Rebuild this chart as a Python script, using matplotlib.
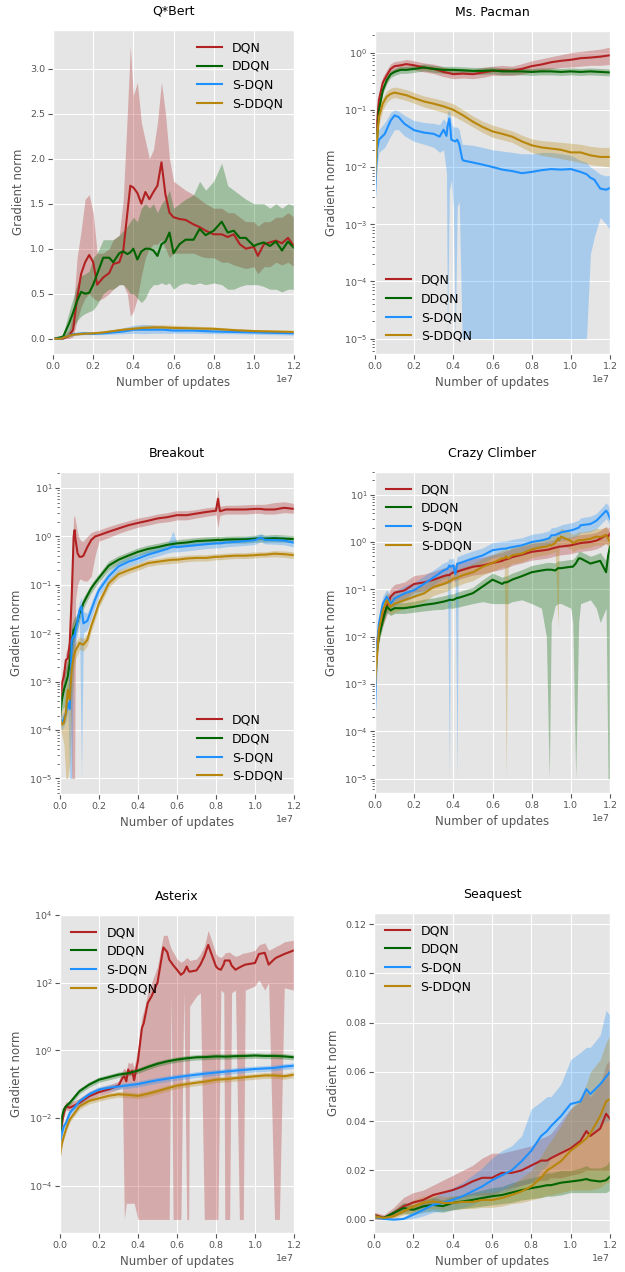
"""
Gradient norm during training for DQN variants on six Atari games
"""

import numpy as np
import matplotlib
matplotlib.use('Agg')
import matplotlib.pyplot as plt
from matplotlib.ticker import NullLocator

UPDATES = 1e7  # x values below are in units of 1e7 updates

# ---------------- Q*Bert (linear) ----------------
qbert_x = [0, .05, .08, .1, .12, .14, .16, .18, .2, .22, .25, .28, .3, .33, .35, .37, .385, .4, .42, .44,
           .46, .48, .5, .52, .54, .56, .58, .6, .63, .66, .7, .73, .76, .8, .84, .87, .9, .93, .96, 1.0,
           1.02, 1.05, 1.08, 1.11, 1.14, 1.17, 1.2]
qbert_dqn = [0, 0, 0.03, 0.1, 0.45, 0.72, 0.85, 0.93, 0.85, 0.6, 0.68, 0.73, 0.83, 0.85, 0.98, 1.39, 1.7, 1.68, 1.62, 1.5,
             1.63, 1.55, 1.63, 1.7, 1.96, 1.6, 1.4, 1.35, 1.33, 1.32, 1.27, 1.24, 1.2, 1.16, 1.16, 1.13, 1.16, 1.05, 1.0, 1.02,
             0.92, 1.05, 1.07, 1.09, 1.06, 1.12, 1.03]
qbert_dqn_lo = [0, 0, 0, 0.02, 0.2, 0.35, 0.45, 0.5, 0.45, 0.42, 0.45, 0.5, 0.55, 0.6, 0.6, 0.5, 0.25, 0.3, 0.45, 0.7,
                0.9, 1.0, 1.05, 1.05, 1.1, 1.0, 0.9, 0.95, 0.95, 0.95, 0.95, 0.92, 0.9, 0.9, 0.85, 0.85, 0.82, 0.8, 0.78, 0.8,
                0.72, 0.8, 0.8, 0.85, 0.82, 0.85, 0.8]
qbert_dqn_hi = [0, 0.02, 0.1, 0.3, 0.9, 1.2, 1.55, 1.6, 1.4, 0.95, 0.95, 1.0, 1.1, 1.15, 1.55, 2.5, 3.25, 2.7, 2.85, 2.4,
                2.2, 2.0, 2.1, 2.4, 2.85, 2.5, 2.0, 1.75, 1.7, 1.65, 1.6, 1.55, 1.5, 1.45, 1.45, 1.4, 1.4, 1.35, 1.3, 1.3,
                1.25, 1.3, 1.3, 1.35, 1.35, 1.4, 1.35]
qbert_ddqn = [0, 0.02, 0.17, 0.29, 0.42, 0.52, 0.5, 0.51, 0.6, 0.72, 0.9, 0.9, 0.85, 0.95, 0.97, 0.94, 0.96, 1.0, 0.88, 0.97,
              1.0, 1.0, 0.98, 0.92, 1.05, 1.08, 1.18, 0.95, 1.05, 1.1, 1.1, 1.22, 1.15, 1.2, 1.3, 1.18, 1.2, 1.12, 1.12, 1.03,
              1.05, 1.07, 1.03, 1.08, 0.98, 1.08, 1.01]
qbert_ddqn_lo = [0, 0, 0.05, 0.12, 0.2, 0.25, 0.28, 0.3, 0.32, 0.38, 0.5, 0.55, 0.55, 0.6, 0.6, 0.55, 0.5, 0.5, 0.45, 0.4,
                 0.45, 0.55, 0.6, 0.6, 0.62, 0.6, 0.62, 0.55, 0.6, 0.62, 0.6, 0.62, 0.6, 0.62, 0.6, 0.55, 0.55, 0.58, 0.6, 0.6,
                 0.6, 0.58, 0.55, 0.55, 0.52, 0.55, 0.55]
qbert_ddqn_hi = [0, 0.05, 0.3, 0.45, 0.6, 0.7, 0.72, 0.75, 0.9, 0.95, 1.1, 1.1, 1.1, 1.15, 1.2, 1.25, 1.3, 1.35, 1.3, 1.45,
                 1.5, 1.45, 1.5, 1.4, 1.5, 1.55, 1.65, 1.45, 1.5, 1.55, 1.6, 1.75, 1.65, 1.75, 1.95, 1.7, 1.65, 1.6, 1.55, 1.5,
                 1.5, 1.5, 1.45, 1.5, 1.45, 1.5, 1.48]
qbert_xs = [0, .04, .06, .1, .15, .2, .25, .3, .35, .4, .45, .5, .55, .6, .7, .8, .9, 1.0, 1.1, 1.2]
qbert_sdqn = [0, 0, 0.02, 0.05, 0.06, 0.055, 0.06, 0.07, 0.08, 0.1, 0.1, 0.1, 0.1, 0.09, 0.09, 0.08, 0.075, 0.07, 0.065, 0.06]
qbert_sdqn_lo = [0, 0, 0.01, 0.035, 0.045, 0.045, 0.045, 0.05, 0.055, 0.06, 0.055, 0.06, 0.06, 0.06, 0.06, 0.055, 0.055, 0.05, 0.045, 0.04]
qbert_sdqn_hi = [0, 0, 0.03, 0.065, 0.075, 0.07, 0.08, 0.1, 0.12, 0.15, 0.16, 0.15, 0.14, 0.13, 0.12, 0.11, 0.1, 0.09, 0.09, 0.085]
qbert_sddqn = [0, 0, 0.02, 0.045, 0.055, 0.06, 0.07, 0.085, 0.1, 0.11, 0.12, 0.125, 0.125, 0.12, 0.115, 0.11, 0.095, 0.085, 0.08, 0.075]
qbert_sddqn_lo = [0, 0, 0.01, 0.035, 0.045, 0.05, 0.055, 0.07, 0.08, 0.09, 0.095, 0.1, 0.1, 0.1, 0.095, 0.09, 0.08, 0.07, 0.065, 0.06]
qbert_sddqn_hi = [0, 0, 0.03, 0.055, 0.065, 0.075, 0.085, 0.1, 0.12, 0.135, 0.15, 0.155, 0.155, 0.15, 0.14, 0.13, 0.115, 0.1, 0.095, 0.09]

# ---------------- Ms. Pacman (log) ----------------
pac_x = [0, .01, .02, .04, .06, .08, .1, .13, .16, .2, .25, .3, .35, .4, .45, .5, .55, .6, .65, .7,
         .75, .8, .85, .9, .95, 1.0, 1.05, 1.1, 1.15, 1.2]
pac_dqn = [0.008, 0.06, 0.15, 0.3, 0.4, 0.52, 0.58, 0.6, 0.63, 0.6, 0.55, 0.52, 0.46, 0.42, 0.43, 0.42, 0.45, 0.48, 0.49, 0.48,
           0.52, 0.58, 0.62, 0.68, 0.72, 0.75, 0.8, 0.82, 0.85, 0.9]
pac_dqn_lo = [0.005, 0.04, 0.1, 0.22, 0.3, 0.42, 0.47, 0.5, 0.52, 0.5, 0.46, 0.43, 0.38, 0.35, 0.36, 0.35, 0.37, 0.4, 0.4, 0.4,
              0.42, 0.46, 0.48, 0.52, 0.55, 0.56, 0.58, 0.6, 0.6, 0.62]
pac_dqn_hi = [0.015, 0.08, 0.2, 0.38, 0.5, 0.64, 0.7, 0.72, 0.76, 0.72, 0.66, 0.63, 0.56, 0.5, 0.52, 0.5, 0.55, 0.58, 0.6, 0.58,
              0.64, 0.72, 0.78, 0.85, 0.92, 1.0, 1.05, 1.1, 1.15, 1.25]
pac_ddqn = [0.005, 0.03, 0.1, 0.22, 0.33, 0.42, 0.46, 0.5, 0.5, 0.52, 0.55, 0.52, 0.5, 0.5, 0.49, 0.48, 0.48, 0.49, 0.47, 0.47,
            0.47, 0.46, 0.47, 0.47, 0.46, 0.47, 0.46, 0.47, 0.46, 0.45]
pac_ddqn_spread = 1.15
pac_sddqn = [0.006, 0.03, 0.075, 0.13, 0.17, 0.19, 0.2, 0.19, 0.18, 0.16, 0.14, 0.128, 0.115, 0.1, 0.08, 0.062, 0.05, 0.042, 0.038, 0.034,
             0.028, 0.024, 0.022, 0.021, 0.02, 0.018, 0.018, 0.016, 0.015, 0.015]
pac_sddqn_lo = [0.004, 0.02, 0.055, 0.1, 0.135, 0.155, 0.165, 0.155, 0.145, 0.13, 0.112, 0.1, 0.09, 0.078, 0.063, 0.05, 0.04, 0.033, 0.03, 0.027,
                0.022, 0.018, 0.016, 0.015, 0.014, 0.013, 0.012, 0.011, 0.0105, 0.01]
pac_sddqn_hi = [0.008, 0.04, 0.1, 0.165, 0.215, 0.24, 0.25, 0.24, 0.225, 0.2, 0.175, 0.16, 0.145, 0.127, 0.1, 0.078, 0.063, 0.054, 0.048, 0.043,
                0.036, 0.031, 0.029, 0.028, 0.027, 0.026, 0.025, 0.023, 0.022, 0.022]
pac_xs = [0, .01, .02, .05, .08, .1, .12, .15, .2, .25, .3, .33, .35, .365, .37, .38, .39, .4, .41, .42,
          .43, .445, .45, .5, .55, .6, .65, .7, .75, .8, .85, .9, .95, 1.0, 1.05, 1.08, 1.1, 1.12, 1.15, 1.18, 1.2]
pac_sdqn = [0.003, 0.02, 0.03, 0.038, 0.065, 0.08, 0.075, 0.057, 0.044, 0.04, 0.038, 0.034, 0.045, 0.035, 0.05, 0.07, 0.03, 0.029, 0.028, 0.03,
            0.025, 0.014, 0.013, 0.012, 0.011, 0.01, 0.009, 0.0085, 0.0078, 0.0082, 0.0088, 0.0092, 0.009, 0.0092, 0.0082, 0.0075, 0.0065, 0.006, 0.0042, 0.004,
            0.0043]
pac_sdqn_lo = [0.002, 0.01, 0.018, 0.022, 0.035, 0.045, 0.045, 0.035, 0.028, 0.025, 0.022, 0.018, 0.02, 0.008, 1e-5, 0.004, 0.006, 0.002, 1e-5, 0.002,
               0.0025, 1e-5, 1e-5, 1e-5, 1e-5, 1e-5, 1e-5, 1e-5, 1e-5, 1e-5, 1e-5, 1e-5, 1e-5, 1e-5, 1e-5, 1e-5, 3e-4, 6e-4, 1.3e-3, 1e-3,
               8e-4]
pac_sdqn_hi = [0.004, 0.03, 0.045, 0.06, 0.09, 0.1, 0.095, 0.08, 0.065, 0.06, 0.058, 0.055, 0.07, 0.06, 0.09, 0.1, 0.06, 0.05, 0.05, 0.05,
               0.045, 0.025, 0.025, 0.024, 0.022, 0.02, 0.019, 0.018, 0.017, 0.017, 0.018, 0.018, 0.017, 0.016, 0.013, 0.012, 0.01, 0.009, 0.0075, 0.007,
               0.0072]

# ---------------- Breakout (log) ----------------
bo_x = [0, .01, .02, .03, .04, .05, .06, .07, .075, .08, .09, .1, .11, .12, .14, .16, .18, .2, .25, .3,
        .35, .4, .45, .5, .55, .58, .6, .65, .7, .75, .8, .81, .82, .85, .9, .95, 1.0, 1.03, 1.05, 1.1, 1.15, 1.2]
bo_dqn = [1.9e-4, 9.3e-4, 1.3e-3, 2.8e-3, 3e-3, 6.3e-3, 0.056, 1.0, 1.35, 0.85, 0.45, 0.38, 0.38, 0.4, 0.6, 0.84, 1.0, 1.06, 1.25, 1.46,
          1.7, 1.9, 2.1, 2.35, 2.5, 2.65, 2.75, 2.75, 2.97, 3.2, 3.4, 6.0, 3.3, 3.6, 3.6, 3.6, 3.7, 3.7, 3.6, 3.6, 3.9, 3.7]
bo_dqn_lo = [1.2e-4, 5e-4, 8e-4, 1.5e-3, 1.5e-3, 2e-3, 1e-5, 1e-5, 1e-5, 0.05, 0.1, 0.13, 0.13, 0.12, 0.12, 0.15, 0.4, 0.8, 0.95, 1.15,
             1.35, 1.55, 1.7, 1.9, 2.0, 2.1, 2.2, 2.2, 2.4, 2.6, 2.8, 1.5, 2.7, 2.9, 2.9, 2.9, 3.0, 3.0, 2.9, 2.9, 3.1, 3.0]
bo_dqn_hi = [3e-4, 1.5e-3, 2e-3, 4e-3, 5e-3, 0.012, 0.3, 2.5, 2.7, 2.0, 1.2, 0.9, 0.8, 0.8, 1.0, 1.2, 1.3, 1.35, 1.6, 1.85,
             2.1, 2.4, 2.6, 2.9, 3.1, 3.3, 3.4, 3.4, 3.6, 3.9, 4.1, 10.0, 4.2, 4.4, 4.4, 4.5, 4.6, 4.6, 4.6, 5.0, 5.2, 4.8]
bo_ddqn = [1.9e-4, 4.3e-4, 6.8e-4, 9.3e-4, 1.3e-3, 2.4e-3, 6.3e-3, 0.012, 0.012, 0.014, 0.018, 0.026, 0.032, 0.042, 0.06, 0.085, 0.11, 0.14, 0.25, 0.33,
           0.4, 0.48, 0.55, 0.6, 0.67, 0.7, 0.72, 0.75, 0.8, 0.82, 0.84, 0.85, 0.84, 0.86, 0.87, 0.87, 0.9, 0.92, 0.9, 0.92, 0.9, 0.88]
bo_ddqn_lo = [1.2e-4, 2.5e-4, 3e-4, 3e-4, 4e-4, 8e-4, 2.5e-3, 6e-3, 7e-3, 9e-3, 0.012, 0.018, 0.024, 0.032, 0.048, 0.068, 0.09, 0.115, 0.2, 0.27,
              0.33, 0.4, 0.46, 0.5, 0.56, 0.58, 0.6, 0.63, 0.67, 0.69, 0.7, 0.71, 0.7, 0.72, 0.73, 0.73, 0.76, 0.77, 0.76, 0.77, 0.76, 0.74]
bo_ddqn_hi = [3e-4, 7e-4, 1.3e-3, 2e-3, 3e-3, 6e-3, 0.015, 0.02, 0.022, 0.022, 0.026, 0.036, 0.042, 0.055, 0.075, 0.105, 0.135, 0.17, 0.31, 0.4,
              0.48, 0.58, 0.66, 0.72, 0.8, 0.84, 0.86, 0.9, 0.95, 0.98, 1.0, 1.01, 1.0, 1.02, 1.03, 1.03, 1.06, 1.1, 1.06, 1.1, 1.07, 1.04]
bo_sdqn = [1.7e-4, 1.4e-4, 1.7e-4, 2.2e-4, 3.6e-4, 2.7e-4, 7e-3, 9e-3, 8.5e-3, 0.012, 0.018, 0.03, 0.036, 0.016, 0.018, 0.03, 0.05, 0.078, 0.15, 0.24,
           0.3, 0.35, 0.42, 0.48, 0.55, 0.62, 0.6, 0.63, 0.66, 0.69, 0.72, 0.72, 0.72, 0.75, 0.77, 0.8, 0.84, 0.95, 0.85, 0.84, 0.82, 0.74]
bo_sdqn_lo = [1.2e-4, 1e-4, 1.2e-4, 1.5e-4, 2.5e-4, 1e-5, 1e-5, 3e-3, 4e-3, 6e-3, 0.01, 0.018, 1e-5, 0.01, 0.012, 0.02, 0.036, 0.058, 0.12, 0.19,
              0.24, 0.28, 0.34, 0.39, 0.45, 0.48, 0.48, 0.5, 0.53, 0.56, 0.58, 0.58, 0.58, 0.61, 0.63, 0.65, 0.68, 0.78, 0.7, 0.69, 0.67, 0.6]
bo_sdqn_hi = [2.3e-4, 2e-4, 2.3e-4, 3e-4, 5e-4, 4e-4, 0.012, 0.014, 0.013, 0.02, 0.028, 0.045, 0.055, 0.028, 0.026, 0.042, 0.068, 0.1, 0.19, 0.3,
              0.37, 0.43, 0.52, 0.58, 0.68, 1.3, 0.74, 0.78, 0.82, 0.85, 0.88, 0.88, 0.88, 0.92, 0.94, 0.98, 1.02, 1.15, 1.04, 1.03, 1.0, 0.92]
bo_sddqn = [1.7e-4, 1.3e-4, 1.4e-4, 2.2e-4, 6.8e-4, 4.3e-4, 1.8e-3, 3.3e-3, 3.8e-3, 4.5e-3, 5.2e-3, 6.3e-3, 6e-3, 5.8e-3, 7.3e-3, 0.014, 0.024, 0.042, 0.107, 0.166,
            0.2, 0.235, 0.28, 0.3, 0.32, 0.33, 0.33, 0.35, 0.36, 0.36, 0.38, 0.38, 0.38, 0.39, 0.4, 0.4, 0.41, 0.42, 0.42, 0.44, 0.43, 0.41]
bo_sddqn_lo = [1.1e-4, 8e-5, 5e-5, 1e-5, 1e-5, 2e-5, 4e-4, 1.5e-3, 2.2e-3, 3e-3, 3.6e-3, 4.6e-3, 4.5e-3, 4.3e-3, 5.5e-3, 0.011, 0.019, 0.034, 0.088, 0.14,
               0.17, 0.2, 0.24, 0.26, 0.27, 0.28, 0.28, 0.3, 0.31, 0.31, 0.33, 0.33, 0.33, 0.34, 0.35, 0.35, 0.36, 0.37, 0.37, 0.38, 0.37, 0.35]
bo_sddqn_hi = [2.4e-4, 2.2e-4, 3e-4, 6e-4, 1.2e-3, 1.5e-3, 5e-3, 6e-3, 6e-3, 6.5e-3, 7.5e-3, 8.5e-3, 8e-3, 7.8e-3, 9.5e-3, 0.018, 0.03, 0.052, 0.13, 0.2,
               0.24, 0.28, 0.33, 0.35, 0.38, 0.39, 0.39, 0.41, 0.42, 0.42, 0.44, 0.44, 0.44, 0.45, 0.46, 0.46, 0.48, 0.48, 0.48, 0.51, 0.5, 0.48]

# ---------------- Crazy Climber (log) ----------------
cc_x = [0, .01, .02, .04, .06, .08, .1, .15, .2, .25, .3, .35, .37, .38, .385, .4, .41, .42, .425, .45,
        .5, .55, .6, .65, .66, .67, .68, .7, .75, .8, .85, .875, .89, .9, .92, .935, .94, .95, 1.0, 1.01,
        1.025, 1.04, 1.05, 1.1, 1.13, 1.15, 1.18, 1.19, 1.2]
cc_dqn = [0.0028, 0.0072, 0.014, 0.026, 0.043, 0.07, 0.085, 0.095, 0.13, 0.14, 0.16, 0.19, 0.2, 0.2, 0.21, 0.23, 0.22, 0.24, 0.24, 0.26,
          0.3, 0.32, 0.36, 0.4, 0.42, 0.43, 0.44, 0.48, 0.54, 0.62, 0.66, 0.68, 0.7, 0.72, 0.76, 0.78, 0.8, 0.8, 0.85, 0.87,
          0.9, 0.93, 0.95, 1.0, 1.07, 1.17, 1.4, 1.3, 1.5]
cc_dqn_spread = 1.5
cc_ddqn = [0.0014, 0.005, 0.01, 0.022, 0.043, 0.036, 0.04, 0.04, 0.043, 0.047, 0.05, 0.055, 0.058, 0.06, 0.06, 0.06, 0.063, 0.066, 0.066, 0.071,
           0.083, 0.115, 0.16, 0.13, 0.14, 0.14, 0.145, 0.16, 0.19, 0.23, 0.25, 0.26, 0.26, 0.26, 0.25, 0.28, 0.28, 0.28, 0.3, 0.3,
           0.35, 0.45, 0.45, 0.35, 0.38, 0.4, 0.23, 0.5, 0.8]
cc_ddqn_lo = [0.001, 0.0038, 0.0075, 0.017, 0.032, 0.028, 0.031, 0.031, 0.033, 0.035, 0.037, 0.038, 0.04, 0.04, 0.04, 0.04, 0.042, 0.042, 0.042, 0.045,
              0.05, 0.055, 0.05, 0.05, 0.05, 0.05, 0.05, 0.055, 0.06, 0.05, 0.04, 0.01, 1e-5, 0.02, 0.045, 0.05, 0.05, 0.05, 0.04, 0.02,
              1e-5, 0.02, 0.05, 0.06, 0.04, 0.02, 0.04, 1e-5, 1e-5]
cc_ddqn_hi = [0.002, 0.0065, 0.013, 0.028, 0.055, 0.047, 0.052, 0.052, 0.056, 0.062, 0.066, 0.073, 0.077, 0.08, 0.08, 0.08, 0.084, 0.088, 0.088, 0.095,
              0.11, 0.16, 0.22, 0.18, 0.19, 0.19, 0.2, 0.22, 0.26, 0.32, 0.35, 0.37, 0.37, 0.37, 0.36, 0.4, 0.4, 0.4, 0.43, 0.43,
              0.5, 0.63, 0.63, 0.5, 0.55, 0.6, 0.4, 0.75, 1.2]
cc_sdqn = [2.4e-4, 6e-3, 0.019, 0.05, 0.07, 0.05, 0.064, 0.082, 0.096, 0.13, 0.18, 0.25, 0.27, 0.32, 0.3, 0.32, 0.21, 0.35, 0.35, 0.38,
           0.45, 0.52, 0.67, 0.72, 0.72, 0.73, 0.75, 0.78, 0.85, 1.0, 1.08, 1.15, 1.2, 1.38, 1.4, 1.5, 1.5, 1.6, 1.76, 1.8,
           1.9, 2.0, 2.25, 2.4, 2.8, 3.4, 4.6, 4.0, 3.1]
cc_sdqn_lo = [1.5e-4, 4e-3, 0.013, 0.035, 0.05, 0.035, 0.045, 0.057, 0.067, 0.09, 0.125, 0.17, 0.18, 1e-5, 0.2, 0.22, 0.14, 1e-5, 0.24, 0.26,
              0.31, 0.36, 0.46, 0.5, 0.5, 0.5, 0.52, 0.54, 0.59, 0.69, 0.75, 0.8, 0.83, 0.95, 0.97, 1.03, 1.03, 1.1, 1.2, 1.25,
              1.3, 1.4, 1.55, 1.65, 1.9, 2.3, 3.1, 2.7, 2.1]
cc_sdqn_hi = [3.5e-4, 9e-3, 0.027, 0.072, 0.1, 0.072, 0.092, 0.118, 0.14, 0.19, 0.26, 0.36, 0.39, 0.46, 0.43, 0.46, 0.3, 0.5, 0.5, 0.55,
              0.65, 0.75, 0.97, 1.04, 1.04, 1.06, 1.08, 1.13, 1.23, 1.45, 1.56, 1.66, 1.74, 2.0, 2.03, 2.17, 2.17, 2.3, 2.55, 2.6,
              2.75, 2.9, 3.25, 3.5, 4.0, 4.9, 6.7, 6.0, 4.5]
cc_sddqn = [8.7e-4, 3.8e-3, 0.0138, 0.036, 0.059, 0.043, 0.05, 0.059, 0.07, 0.082, 0.113, 0.13, 0.14, 0.15, 0.15, 0.17, 0.17, 0.175, 0.18, 0.2,
            0.23, 0.3, 0.36, 0.45, 0.45, 0.5, 0.45, 0.52, 0.57, 0.7, 0.78, 0.8, 0.85, 0.85, 0.95, 1.2, 1.1, 1.3, 1.05, 0.95,
            1.0, 1.1, 1.08, 1.17, 1.3, 1.27, 1.4, 1.2, 1.0]
cc_sddqn_lo = [5.8e-4, 2.5e-3, 0.009, 0.024, 0.039, 0.029, 0.033, 0.039, 0.047, 0.055, 0.075, 0.087, 0.093, 0.1, 0.1, 0.113, 0.113, 0.117, 0.12, 0.133,
               0.153, 0.2, 0.24, 0.3, 0.3, 1e-5, 0.3, 0.35, 0.38, 0.47, 0.52, 0.53, 0.57, 0.57, 0.63, 0.014, 0.73, 0.87, 0.7, 0.63,
               0.67, 0.73, 0.72, 0.78, 0.87, 0.85, 0.93, 0.8, 0.67]
cc_sddqn_hi = [1.3e-3, 5.7e-3, 0.021, 0.054, 0.089, 0.065, 0.075, 0.089, 0.105, 0.123, 0.17, 0.195, 0.21, 0.225, 0.225, 0.255, 0.255, 0.26, 0.27, 0.3,
               0.35, 0.45, 0.54, 0.68, 0.68, 0.75, 0.68, 0.78, 0.86, 1.05, 1.17, 1.2, 1.28, 1.28, 1.43, 1.8, 1.65, 1.95, 1.58, 1.43,
               1.5, 1.65, 1.62, 1.75, 1.95, 1.9, 2.1, 1.8, 1.5]

# ---------------- Asterix (log) ----------------
ast_x = [0, .01, .02, .03, .05, .1, .15, .2, .25, .3, .32, .33, .34, .35, .36, .37, .38, .4, .42, .43,
         .45, .47, .5, .53, .55, .56, .57, .58, .6, .62, .635, .65, .66, .665, .7, .72, .74, .76, .8, .81,
         .825, .84, .845, .87, .88, .9, .92, .93, .94, .95, 1.0, 1.02, 1.05, 1.07, 1.1, 1.11, 1.125, 1.15, 1.2]
ast_dqn = [1.8e-3, 7e-3, 0.014, 0.022, 0.02, 0.028, 0.044, 0.058, 0.07, 0.09, 0.15, 0.17, 0.12, 0.27, 0.2, 0.25, 0.13, 0.5, 4.5, 6.5,
           25, 40, 100, 1100, 800, 480, 400, 330, 240, 170, 200, 300, 220, 210, 230, 340, 600, 1300, 300, 260,
           240, 350, 450, 450, 320, 240, 280, 300, 320, 340, 380, 700, 760, 340, 500, 550, 600, 700, 900]
ast_dqn_lo = [1.4e-3, 5e-3, 0.011, 0.017, 0.016, 0.022, 0.035, 0.046, 0.055, 0.07, 0.08, 1e-5, 3e-5, 3e-5, 3e-5, 3e-5, 3e-5, 1e-5, 1e-5, 1e-5,
              1e-5, 1e-5, 1e-5, 1e-5, 1e-5, 1e-5, 50, 1e-5, 1e-5, 1e-5, 60, 1e-5, 1e-5, 20, 40, 50, 1e-5, 1e-5, 1e-5, 1e-5,
              60, 50, 1e-5, 1e-5, 50, 60, 1e-5, 1e-5, 1e-5, 60, 80, 120, 60, 100, 1e-5, 1e-5, 1e-5, 70, 60]
ast_dqn_hi = [2.5e-3, 0.01, 0.02, 0.03, 0.028, 0.038, 0.06, 0.078, 0.095, 0.12, 0.25, 0.3, 0.25, 0.45, 0.4, 0.45, 0.3, 1.2, 10, 15,
              50, 100, 300, 2500, 2500, 1500, 1000, 800, 500, 400, 450, 550, 500, 450, 500, 700, 1200, 3500, 700, 600,
              550, 650, 750, 800, 700, 600, 650, 700, 750, 750, 900, 1300, 1500, 900, 1100, 1200, 1300, 1600, 1800]
ast_xs = [0, .01, .02, .03, .05, .1, .15, .2, .25, .3, .35, .4, .45, .5, .55, .6, .65, .7, .75, .8,
          .85, .9, .95, 1.0, 1.05, 1.1, 1.15, 1.2]
ast_ddqn = [2.3e-3, 0.011, 0.018, 0.022, 0.028, 0.062, 0.097, 0.135, 0.16, 0.19, 0.21, 0.25, 0.32, 0.4, 0.47, 0.53, 0.58, 0.62, 0.63, 0.66,
            0.65, 0.67, 0.68, 0.7, 0.68, 0.68, 0.66, 0.62]
ast_sdqn = [1.8e-3, 3.6e-3, 5.7e-3, 7e-3, 0.014, 0.031, 0.05, 0.069, 0.078, 0.085, 0.092, 0.1, 0.115, 0.13, 0.145, 0.16, 0.175, 0.19, 0.205, 0.22,
            0.235, 0.25, 0.265, 0.28, 0.29, 0.3, 0.33, 0.35]
ast_sddqn = [7.4e-4, 1.8e-3, 2.9e-3, 4.5e-3, 9e-3, 0.022, 0.032, 0.038, 0.045, 0.05, 0.048, 0.045, 0.052, 0.062, 0.075, 0.09, 0.1, 0.11, 0.12, 0.135,
             0.14, 0.15, 0.16, 0.17, 0.18, 0.18, 0.17, 0.19]
ast_ddqn_spread = 1.2
ast_sdqn_spread = 1.22
ast_sddqn_spread = 1.22

# ---------------- Seaquest (linear) ----------------
sq_x = [0, .05, .1, .15, .2, .25, .3, .35, .4, .45, .5, .55, .6, .65, .7, .75, .8, .85, .88, .9,
        .95, 1.0, 1.05, 1.08, 1.1, 1.15, 1.18, 1.2]
sq_dqn = [0.002, 0.0007, 0.0027, 0.0054, 0.007, 0.008, 0.01, 0.011, 0.012, 0.0135, 0.0155, 0.017, 0.017, 0.019, 0.019, 0.02, 0.022, 0.024, 0.024, 0.025,
          0.027, 0.029, 0.032, 0.036, 0.034, 0.037, 0.043, 0.041]
sq_dqn_lo = [0.0, 0.0, 0.001, 0.003, 0.004, 0.005, 0.006, 0.007, 0.008, 0.009, 0.01, 0.01, 0.01, 0.012, 0.013, 0.014, 0.015, 0.016, 0.016, 0.017,
             0.017, 0.018, 0.019, 0.02, 0.02, 0.02, 0.02, 0.02]
sq_dqn_hi = [0.003, 0.002, 0.005, 0.009, 0.011, 0.012, 0.014, 0.016, 0.018, 0.02, 0.022, 0.025, 0.027, 0.027, 0.028, 0.029, 0.03, 0.033, 0.034, 0.035,
             0.04, 0.045, 0.048, 0.052, 0.05, 0.055, 0.063, 0.065]
sq_ddqn = [0.0014, 0.0007, 0.0027, 0.0047, 0.004, 0.0054, 0.006, 0.0055, 0.0068, 0.0074, 0.008, 0.0088, 0.0095, 0.01, 0.011, 0.012, 0.0128, 0.0135, 0.014, 0.014,
           0.015, 0.0155, 0.016, 0.0165, 0.016, 0.0155, 0.016, 0.0175]
sq_ddqn_lo = [0.0005, 0.0002, 0.0015, 0.0025, 0.002, 0.003, 0.0035, 0.003, 0.004, 0.0045, 0.005, 0.0055, 0.006, 0.0065, 0.007, 0.008, 0.0085, 0.009, 0.0095, 0.0095,
              0.01, 0.011, 0.011, 0.011, 0.011, 0.011, 0.011, 0.012]
sq_ddqn_hi = [0.0025, 0.0015, 0.004, 0.007, 0.006, 0.008, 0.009, 0.008, 0.0095, 0.01, 0.011, 0.012, 0.013, 0.0135, 0.015, 0.016, 0.017, 0.018, 0.019, 0.019,
              0.02, 0.02, 0.021, 0.022, 0.021, 0.021, 0.022, 0.024]
sq_sdqn = [0.0014, 0.0003, 0.0, 0.0003, 0.002, 0.004, 0.006, 0.0068, 0.008, 0.0095, 0.0115, 0.0135, 0.016, 0.018, 0.02, 0.0237, 0.028, 0.034, 0.036, 0.038,
           0.042, 0.047, 0.048, 0.053, 0.051, 0.055, 0.058, 0.06]
sq_sdqn_lo = [0.0005, 0.0, 0.0, 0.0, 0.0005, 0.0015, 0.003, 0.0035, 0.004, 0.005, 0.006, 0.008, 0.01, 0.011, 0.012, 0.014, 0.015, 0.02, 0.022, 0.025,
              0.028, 0.03, 0.032, 0.035, 0.035, 0.038, 0.04, 0.04]
sq_sdqn_hi = [0.0025, 0.001, 0.0005, 0.001, 0.0035, 0.0065, 0.009, 0.011, 0.013, 0.015, 0.018, 0.021, 0.025, 0.028, 0.03, 0.034, 0.045, 0.048, 0.05, 0.05,
              0.055, 0.065, 0.068, 0.07, 0.07, 0.075, 0.085, 0.083]
sq_sddqn = [0.0014, 0.0007, 0.0014, 0.0034, 0.0054, 0.0068, 0.0074, 0.0068, 0.0068, 0.0072, 0.0072, 0.008, 0.008, 0.0088, 0.01, 0.0115, 0.0135, 0.017, 0.02, 0.021,
            0.0237, 0.028, 0.031, 0.033, 0.035, 0.042, 0.048, 0.049]
sq_sddqn_lo = [0.0005, 0.0002, 0.0005, 0.002, 0.003, 0.004, 0.0045, 0.004, 0.004, 0.0045, 0.0045, 0.005, 0.005, 0.0055, 0.0065, 0.007, 0.008, 0.009, 0.01, 0.01,
               0.011, 0.012, 0.012, 0.012, 0.012, 0.013, 0.015, 0.015]
sq_sddqn_hi = [0.0025, 0.0015, 0.0025, 0.005, 0.008, 0.0095, 0.01, 0.0095, 0.0095, 0.01, 0.01, 0.011, 0.011, 0.012, 0.014, 0.017, 0.02, 0.026, 0.03, 0.032,
               0.038, 0.045, 0.05, 0.055, 0.06, 0.065, 0.072, 0.075]

COLORS = {'DQN': '#b22222', 'DDQN': '#006400', 'S-DQN': '#1e90ff', 'S-DDQN': '#b8860b'}


def spread_band(mean, factor):
    """Multiplicative band for series whose shading is a constant width in log space"""
    mean = np.asarray(mean, dtype=float)
    return mean / factor, mean * factor


def add_run(ax, x, mean, lo, hi, name):
    xs = np.asarray(x) * UPDATES
    ax.fill_between(xs, lo, hi, color=COLORS[name], alpha=0.3, linewidth=0)
    ax.plot(xs, mean, color=COLORS[name], linewidth=1.5, label=name)


plt.style.use('ggplot')
plt.rcParams.update({
    'font.family': ['DejaVu Sans'],
    'xtick.labelsize': 6.8,
    'ytick.labelsize': 6.8,
    'axes.labelsize': 8.5,
    'axes.titlesize': 9,
    'axes.titlecolor': 'black',
    'legend.fontsize': 9,
    'xtick.major.pad': 2,
    'ytick.major.pad': 2,
})

fig = plt.figure(figsize=(6.25, 12.72), dpi=100)

# axes boxes in figure fractions (left, bottom, width, height)
boxes = {
    'qbert': [0.0848, 0.7217, 0.3856, 0.2547],
    'pacman': [0.600, 0.7217, 0.376, 0.2540],
    'breakout': [0.096, 0.3758, 0.3744, 0.2531],
    'climber': [0.600, 0.3766, 0.376, 0.2524],
    'asterix': [0.096, 0.0307, 0.3744, 0.2500],
    'seaquest': [0.5984, 0.0307, 0.3776, 0.2516],
}

panels = [
    dict(key='qbert', title='Q*Bert', log=False, ylim=(-0.17, 3.43), legend='upper right',
         runs=[(qbert_x, qbert_dqn, qbert_dqn_lo, qbert_dqn_hi, 'DQN'),
               (qbert_x, qbert_ddqn, qbert_ddqn_lo, qbert_ddqn_hi, 'DDQN'),
               (qbert_xs, qbert_sdqn, qbert_sdqn_lo, qbert_sdqn_hi, 'S-DQN'),
               (qbert_xs, qbert_sddqn, qbert_sddqn_lo, qbert_sddqn_hi, 'S-DDQN')]),
    dict(key='pacman', title='Ms. Pacman', log=True, ylim=(10 ** -5.27, 10 ** 0.38), legend='lower left',
         runs=[(pac_x, pac_dqn, pac_dqn_lo, pac_dqn_hi, 'DQN'),
               (pac_x, pac_ddqn, *spread_band(pac_ddqn, pac_ddqn_spread), 'DDQN'),
               (pac_xs, pac_sdqn, pac_sdqn_lo, pac_sdqn_hi, 'S-DQN'),
               (pac_x, pac_sddqn, pac_sddqn_lo, pac_sddqn_hi, 'S-DDQN')]),
    dict(key='breakout', title='Breakout', log=True, ylim=(10 ** -5.32, 10 ** 1.33), legend='lower right',
         runs=[(bo_x, bo_dqn, bo_dqn_lo, bo_dqn_hi, 'DQN'),
               (bo_x, bo_ddqn, bo_ddqn_lo, bo_ddqn_hi, 'DDQN'),
               (bo_x, bo_sdqn, bo_sdqn_lo, bo_sdqn_hi, 'S-DQN'),
               (bo_x, bo_sddqn, bo_sddqn_lo, bo_sddqn_hi, 'S-DDQN')]),
    dict(key='climber', title='Crazy Climber', log=True, ylim=(10 ** -5.30, 10 ** 1.48), legend='upper left',
         runs=[(cc_x, cc_dqn, *spread_band(cc_dqn, cc_dqn_spread), 'DQN'),
               (cc_x, cc_ddqn, cc_ddqn_lo, cc_ddqn_hi, 'DDQN'),
               (cc_x, cc_sdqn, cc_sdqn_lo, cc_sdqn_hi, 'S-DQN'),
               (cc_x, cc_sddqn, cc_sddqn_lo, cc_sddqn_hi, 'S-DDQN')]),
    dict(key='asterix', title='Asterix', log=True, ylim=(10 ** -5.4, 10 ** 4.0), legend='upper left',
         runs=[(ast_x, ast_dqn, ast_dqn_lo, ast_dqn_hi, 'DQN'),
               (ast_xs, ast_ddqn, *spread_band(ast_ddqn, ast_ddqn_spread), 'DDQN'),
               (ast_xs, ast_sdqn, *spread_band(ast_sdqn, ast_sdqn_spread), 'S-DQN'),
               (ast_xs, ast_sddqn, *spread_band(ast_sddqn, ast_sddqn_spread), 'S-DDQN')]),
    dict(key='seaquest', title='Seaquest', log=False, ylim=(-0.0054, 0.1246), legend='upper left',
         runs=[(sq_x, sq_dqn, sq_dqn_lo, sq_dqn_hi, 'DQN'),
               (sq_x, sq_ddqn, sq_ddqn_lo, sq_ddqn_hi, 'DDQN'),
               (sq_x, sq_sdqn, sq_sdqn_lo, sq_sdqn_hi, 'S-DQN'),
               (sq_x, sq_sddqn, sq_sddqn_lo, sq_sddqn_hi, 'S-DDQN')]),
]

for p in panels:
    ax = fig.add_axes(boxes[p['key']])
    for x, mean, lo, hi, name in p['runs']:
        add_run(ax, x, mean, lo, hi, name)

    if p['log']:
        ax.set_yscale('log')
    ax.set_xlim(0, 1.2 * UPDATES)
    ax.set_ylim(*p['ylim'])
    if p['key'] == 'asterix':
        ax.set_yticks([1e-4, 1e-2, 1e0, 1e2, 1e4])
        ax.yaxis.set_minor_locator(NullLocator())

    ax.set_title(p['title'], pad=11)
    ax.set_xlabel('Number of updates')
    ax.set_ylabel('Gradient norm')
    ax.legend(loc=p['legend'], frameon=False, labelspacing=0.45)

fig.savefig('out.png', dpi=100)
plt.close(fig)
